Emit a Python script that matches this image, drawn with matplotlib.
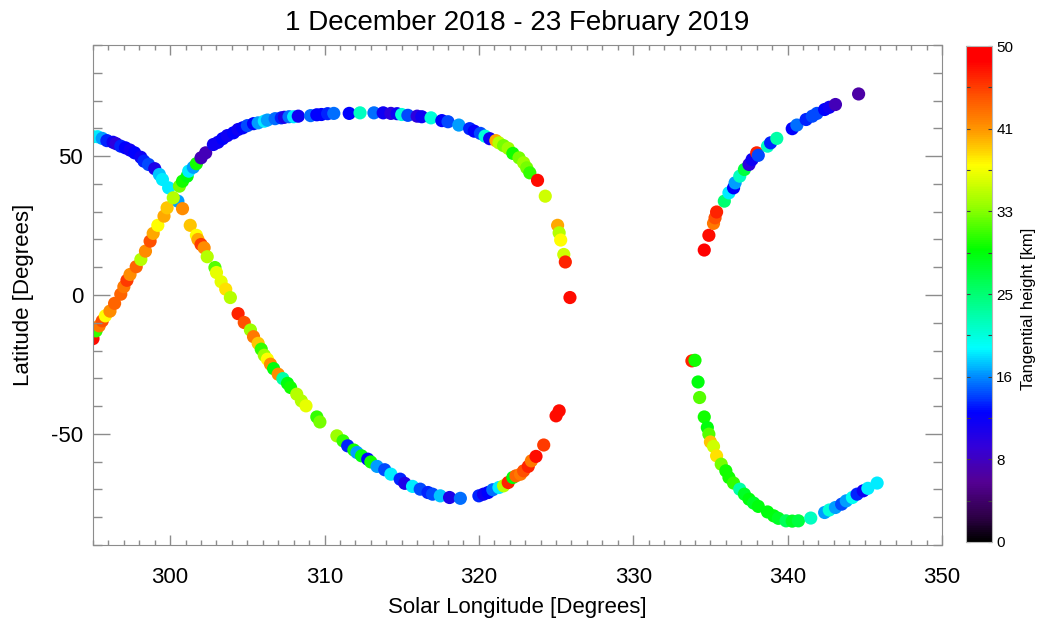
import numpy as np
import matplotlib
matplotlib.use("Agg")
import matplotlib.pyplot as plt
from matplotlib.colors import LinearSegmentedColormap, Normalize
from matplotlib.ticker import MultipleLocator

plt.rcParams['font.family'] = ['Liberation Sans', 'DejaVu Sans']
plt.rcParams['axes.unicode_minus'] = False

# ---- Data: track A (descending from upper-left, then rising near 320-325) ----
lon_a = [295.0, 295.3, 295.6, 295.9, 296.3, 296.5, 296.8, 297.1, 297.4, 297.7, 298.1, 298.3,
         298.6, 299.0, 299.3, 299.5, 299.9, 300.5, 300.8, 301.3, 301.7, 301.8, 302.0, 302.2,
         302.4, 302.9, 303.0, 303.3, 303.6, 303.9, 304.4, 304.8, 305.2, 305.4, 305.7, 305.9,
         306.1, 306.3, 306.5, 306.7, 307.0, 307.3, 307.6, 307.8, 308.2, 308.5, 308.8, 309.5,
         309.7, 310.8, 311.2, 311.5, 311.9, 312.1, 312.4, 312.8, 313.0, 313.4, 313.9, 314.3,
         314.9, 315.2, 315.7, 316.2, 316.7, 317.0, 317.5, 318.1, 318.8, 320.0, 320.3, 320.6,
         320.9, 321.3, 321.6, 321.9, 322.2, 322.4, 322.7, 322.9, 323.2, 323.4, 323.7, 324.2,
         325.0, 325.2]
lat_a = [57.0, 57.0, 56.4, 55.6, 55.0, 54.5, 53.6, 53.0, 52.2, 51.2, 49.6, 48.2,
         47.0, 45.5, 43.4, 41.6, 38.6, 33.8, 31.1, 25.1, 21.5, 20.0, 18.2, 17.0,
         13.8, 9.9, 8.1, 4.8, 2.1, -0.9, -6.7, -9.9, -12.6, -15.0, -17.4, -19.5,
         -21.7, -23.1, -24.9, -26.5, -28.5, -30.1, -31.8, -33.3, -35.7, -38.1, -39.9, -43.9,
         -45.7, -50.7, -52.5, -54.3, -55.8, -56.7, -57.9, -59.1, -60.1, -61.7, -62.9, -64.5,
         -66.3, -67.8, -68.9, -69.9, -71.1, -71.7, -72.3, -72.9, -73.2, -72.3, -71.7, -71.1,
         -70.1, -69.3, -68.7, -67.5, -65.7, -65.1, -64.5, -63.3, -61.7, -59.7, -58.1, -54.0,
         -43.5, -41.7]
h_a = [22, 19, 17, 14, 12, 10, 14, 13, 12, 13, 12, 14,
       15, 11, 18, 19, 19, 17, 42, 40, 38, 41, 46, 42,
       35, 32, 37, 37, 39, 35, 47, 45, 34, 43, 40, 31,
       34, 38, 42, 29, 42, 23, 29, 30, 35, 35, 37, 31,
       33, 34, 31, 14, 30, 17, 29, 13, 30, 17, 15, 19,
       14, 11, 19, 15, 14, 15, 18, 11, 16, 14, 12, 13,
       16, 19, 35, 47, 29, 44, 43, 45, 47, 43, 48, 46,
       48, 48]

# ---- Track B (ascending from lower-left, over the top, down to 326) ----
lon_b = [295.0, 295.2, 295.4, 295.6, 295.8, 296.1, 296.4, 296.8, 297.0, 297.2, 297.4, 297.8,
         298.1, 298.4, 298.7, 298.9, 299.2, 299.6, 299.8, 300.2, 300.6, 300.8, 301.1, 301.2,
         301.5, 301.7, 302.0, 302.3, 302.8, 303.1, 303.4, 303.7, 304.1, 304.4, 304.7, 305.0,
         305.4, 305.7, 306.1, 306.3, 306.8, 307.2, 307.4, 307.7, 308.0, 308.3, 309.1, 309.5,
         309.8, 310.2, 310.6, 311.6, 312.3, 313.2, 313.8, 314.3, 314.7, 315.0, 315.4, 316.0,
         316.3, 316.9, 317.6, 318.0, 318.7, 319.4, 319.7, 320.1, 320.4, 320.7, 321.1, 321.3,
         321.6, 321.9, 322.2, 322.6, 322.9, 323.1, 323.3, 323.8, 324.3, 325.1, 325.2, 325.3,
         325.5, 325.6, 325.9]
lat_b = [-15.7, -12.9, -11.1, -9.3, -7.5, -5.8, -3.0, 0.3, 3.0, 5.3, 7.4, 10.2,
         12.8, 15.8, 19.4, 22.2, 25.1, 28.4, 31.4, 35.0, 39.2, 41.0, 42.8, 44.6,
         46.0, 47.3, 49.4, 51.2, 54.2, 55.0, 56.3, 57.4, 58.4, 59.6, 60.2, 61.0,
         61.7, 62.0, 62.6, 63.0, 63.5, 63.8, 64.0, 64.2, 64.2, 64.4, 64.6, 64.9,
         65.0, 65.3, 65.4, 65.4, 65.6, 65.6, 65.6, 65.4, 65.3, 65.0, 64.7, 64.4,
         64.2, 63.8, 62.8, 62.4, 61.2, 59.9, 59.0, 58.2, 57.2, 56.3, 55.6, 54.8,
         53.8, 52.8, 51.0, 49.4, 47.6, 45.8, 44.0, 41.3, 35.6, 25.1, 22.4, 19.8,
         14.6, 11.9, -0.9]
h_b = [48, 31, 43, 45, 38, 42, 44, 44, 43, 46, 42, 44,
       35, 42, 45, 41, 38, 41, 40, 35, 33, 30, 29, 19,
       17, 30, 8, 8, 12, 12, 13, 12, 13, 12, 13, 15,
       13, 17, 19, 17, 16, 14, 11, 16, 19, 12, 16, 13,
       13, 14, 16, 13, 22, 16, 12, 10, 12, 21, 15, 10,
       12, 21, 13, 15, 17, 14, 13, 15, 21, 12, 41, 35,
       33, 34, 30, 33, 34, 33, 31, 48, 36, 41, 35, 38,
       36, 47, 48]

# ---- Track C (right, northern branch) ----
lon_c = [334.6, 334.9, 335.2, 335.3, 335.4, 335.9, 336.2, 336.5, 336.6, 336.9, 337.2, 337.5,
         337.7, 338.0, 338.1, 338.7, 338.9, 339.3, 340.3, 340.6, 341.2, 341.6, 341.9, 342.4,
         342.7, 343.1, 344.6]
lat_c = [16.2, 21.5, 25.8, 27.8, 29.9, 33.8, 36.8, 38.6, 40.4, 42.8, 45.2, 47.0,
         48.8, 51.2, 50.3, 53.6, 54.8, 56.4, 59.9, 61.2, 63.2, 64.4, 65.4, 66.8,
         67.6, 68.6, 72.4]
h_c = [49, 48, 43, 45, 47, 25, 19, 13, 17, 22, 27, 10,
       12, 47, 15, 22, 14, 23, 13, 16, 14, 15, 15, 13,
       12, 8, 7]

# ---- Track D (right, southern branch) ----
lon_d = [333.8, 334.0, 334.2, 334.3, 334.6, 334.8, 334.9, 335.0, 335.2, 335.4, 335.7, 336.0,
         336.2, 336.5, 336.9, 337.2, 337.5, 337.8, 338.1, 338.7, 339.1, 339.4, 339.9, 340.3,
         340.7, 341.5, 342.4, 342.7, 343.1, 343.5, 343.8, 344.2, 344.5, 344.9, 345.2, 345.8]
lat_d = [-23.7, -23.5, -31.3, -36.9, -43.9, -47.7, -50.1, -52.9, -54.5, -57.9, -60.9, -63.3,
         -65.7, -67.7, -69.9, -71.7, -73.5, -74.9, -76.1, -78.1, -79.5, -80.4, -81.3, -81.4,
         -81.3, -80.3, -78.3, -77.4, -76.5, -75.3, -74.1, -72.9, -71.7, -70.5, -69.6, -67.7]
h_d = [47, 30, 29, 32, 30, 29, 32, 40, 36, 39, 33, 30,
       30, 31, 23, 28, 29, 28, 29, 29, 29, 28, 26, 28,
       27, 22, 17, 21, 17, 15, 17, 20, 14, 12, 19, 19]

cbar_ticks = [0, 50/6, 100/6, 25, 200/6, 250/6, 50]
cbar_labels = ['0', '8', '16', '25', '33', '41', '50']

# IDL-like rainbow colour table
stops = [
    (0.00, (0.0, 0.0, 0.0)),
    (0.05, (0.18, 0.0, 0.28)),
    (0.12, (0.33, 0.0, 0.58)),
    (0.19, (0.2, 0.0, 0.85)),
    (0.26, (0.0, 0.0, 1.0)),
    (0.32, (0.0, 0.45, 1.0)),
    (0.39, (0.0, 1.0, 1.0)),
    (0.48, (0.0, 1.0, 0.55)),
    (0.59, (0.0, 1.0, 0.0)),
    (0.68, (0.6, 1.0, 0.0)),
    (0.76, (1.0, 1.0, 0.0)),
    (0.83, (1.0, 0.6, 0.0)),
    (0.91, (1.0, 0.28, 0.0)),
    (0.97, (1.0, 0.0, 0.0)),
    (1.00, (1.0, 0.0, 0.0)),
]
cmap = LinearSegmentedColormap.from_list('idl39', stops, N=256)
norm = Normalize(vmin=0, vmax=50)

fig = plt.figure(figsize=(10.39, 6.26), dpi=100)
ax = fig.add_axes([0.0895, 0.1294, 0.8171, 0.7986])
cax = fig.add_axes([0.9298, 0.1342, 0.025, 0.7923])

for lo, la, hh in [(lon_a, lat_a, h_a), (lon_b, lat_b, h_b), (lon_c, lat_c, h_c), (lon_d, lat_d, h_d)]:
    sc = ax.scatter(lo, la, c=hh, cmap=cmap, norm=norm, s=90, edgecolors='none')

ax.set_xlim(295, 350)
ax.set_ylim(-90, 90)
ax.xaxis.set_major_locator(MultipleLocator(10))
ax.xaxis.set_minor_locator(MultipleLocator(1))
ax.yaxis.set_major_locator(MultipleLocator(50))
ax.yaxis.set_minor_locator(MultipleLocator(10))
gray = '#8c8c8c'
for s in ax.spines.values():
    s.set_color(gray)
ax.tick_params(axis='x', which='major', direction='in', length=7.2, width=1, color=gray,
               top=True, bottom=True, labelsize=16, pad=16)
ax.tick_params(axis='x', which='minor', direction='in', length=3.6, width=1, color=gray,
               top=True, bottom=True)
ax.tick_params(axis='y', which='major', direction='in', length=12.5, width=1, color=gray,
               left=True, right=True, labelsize=16, pad=7)
ax.tick_params(axis='y', which='minor', direction='in', length=6.5, width=1, color=gray,
               left=True, right=True)
ax.set_xlabel('Solar Longitude [Degrees]', fontsize=16, labelpad=6)
ax.set_ylabel('Latitude [Degrees]', fontsize=16, labelpad=12)
ax.set_title('1 December 2018 - 23 February 2019', fontsize=20, pad=11)

cb = fig.colorbar(sc, cax=cax)
cb.set_ticks(cbar_ticks)
cb.set_ticklabels(cbar_labels, fontsize=11)
cax.yaxis.set_minor_locator(MultipleLocator(50 / 12))
cb.outline.set_edgecolor('#b8b8b8')
cax.tick_params(which='both', labelsize=11, length=3, width=0.8, color='#404040', direction='in',
                left=True, right=True, pad=3)
cb.set_label('Tangential height [km]', fontsize=12)
cax.yaxis.set_label_coords(2.12, 0.47)

fig.savefig('out.png', dpi=100)
